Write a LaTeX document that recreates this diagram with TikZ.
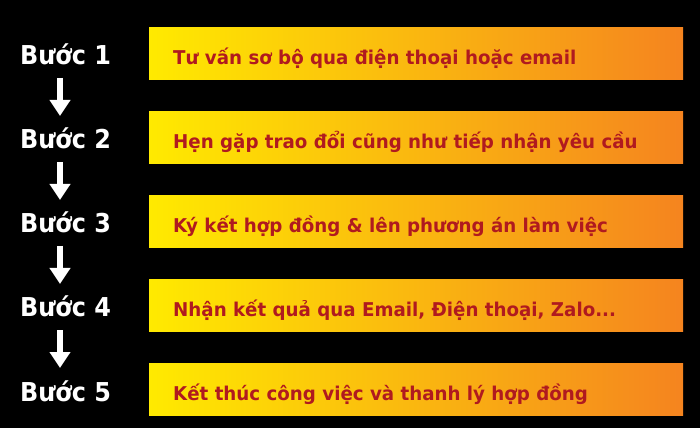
\documentclass[tikz,border=0pt]{standalone}
\usepackage{fontspec}
\setmainfont{DejaVu Sans}
\usetikzlibrary{arrows.meta,calc}
\definecolor{boxleft}{HTML}{FFEA00}
\definecolor{boxmid}{HTML}{FCBC12}
\definecolor{boxright}{HTML}{F5841F}
\definecolor{txtred}{HTML}{B01A1F}
\newcommand{\sqzlabel}[1]{\scalebox{0.92}[1]{#1}}
\newcommand{\sqztext}[1]{\scalebox{0.96}[1]{#1}}
\tikzset{
  stepbox/.style={rectangle, minimum width=534pt, minimum height=52pt, inner sep=0pt,
    left color=boxleft, middle color=boxmid, right color=boxright, draw=none},
  steplabel/.style={anchor=base west, inner sep=0pt, text=white, font=\bfseries\fontsize{26}{30}\selectfont},
  steptext/.style={anchor=base west, inner sep=0pt, text=txtred, font=\bfseries\fontsize{19}{22}\selectfont},
  steparrow/.style={draw=white, line width=6pt, -{Triangle[width=20pt,length=16pt]}}
}
\begin{document}
\begin{tikzpicture}[x=1pt,y=1pt]
\fill[black] (0,0) rectangle (700,428);
\useasboundingbox (0,0) rectangle (700,428);
\foreach \i/\t in {1/{Tư vấn sơ bộ qua điện thoại hoặc email},
                   2/{Hẹn gặp trao đổi cũng như tiếp nhận yêu cầu},
                   3/{Ký kết hợp đồng \& lên phương án làm việc},
                   4/{Nhận kết quả qua Email, Điện thoại, Zalo...},
                   5/{Kết thúc công việc và thanh lý hợp đồng}} {
  \node[stepbox] (b\i) at (416, {374.3-84*(\i-1)}) {};
  \node[steptext] (t\i) at (173, {363.7-84*(\i-1)}) {\sqztext{\t}};
  \node[steplabel] (l\i) at (20, {363-84*(\i-1)}) {\sqzlabel{Bước \i}};
}
\foreach \i [evaluate=\i as \j using int(\i+1)] in {1,2,3,4} {
  \draw[steparrow] ($(l\i.base west)+(40,-13)$) -- ($(l\j.base west)+(40,33)$);
}
\end{tikzpicture}
\end{document}
